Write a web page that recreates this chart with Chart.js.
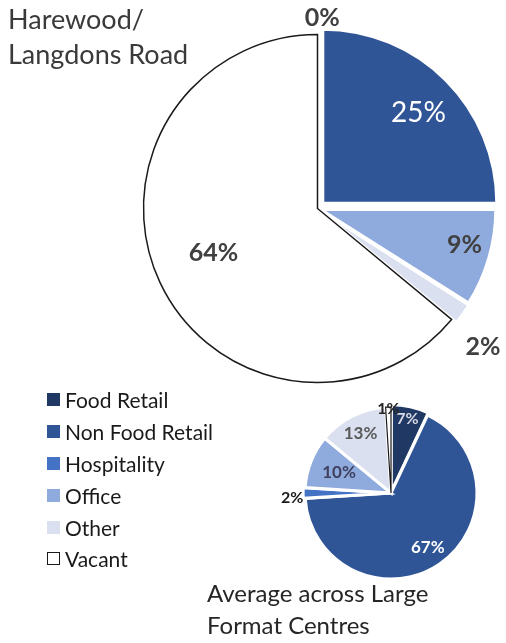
<!DOCTYPE html>
<html>
<head>
<meta charset="utf-8">
<script src="https://cdn.jsdelivr.net/npm/chart.js@4.4.0/dist/chart.umd.min.js"></script>
<style>
  html, body { margin: 0; padding: 0; background: #fff; }
  body { width: 506px; height: 643px; position: relative; overflow: hidden; font-family: Lato, "Open Sans", sans-serif; }
  #bigWrap { position: absolute; left: 131px; top: 0; width: 373px; height: 417px; }
  #smallWrap { position: absolute; left: 276px; top: 393px; width: 230px; height: 200px; }
  .title { position: absolute; left: 8px; top: 1px; font-size: 27px; line-height: 35px; color: #3a3a3a; z-index: 2; }
  .caption { position: absolute; left: 207px; top: 577px; font-size: 24px; line-height: 32px; color: #262626; }
  #legend { position: absolute; left: 47px; top: 384px; margin: 0; padding: 0; list-style: none; font-size: 21px; color: #1a1a1a; }
  #legend li { height: 31.8px; display: flex; align-items: center; white-space: nowrap; }
  #legend span.box { display: inline-block; width: 13px; height: 13px; margin-right: 5px; box-sizing: border-box; }
</style>
</head>
<body>
<div class="title">Harewood/<br>Langdons Road</div>
<div id="bigWrap"><canvas id="bigPie"></canvas></div>
<ul id="legend"></ul>
<div id="smallWrap"><canvas id="smallPie"></canvas></div>
<div class="caption">Average across Large<br>Format Centres</div>
<script>
// categories and values (percent of floorspace)
const categories = ['Food Retail', 'Non Food Retail', 'Hospitality', 'Office', 'Other', 'Vacant'];
const harewoodValues = [0, 25, 0, 9, 2, 64];
const averageValues = [7, 67, 2, 10, 13, 1];

const sliceColours = ['#1f3864', '#2f5597', '#4472c4', '#8faadc', '#dae0f0', '#ffffff'];
const sliceBorders = ['#ffffff', '#ffffff', '#ffffff', '#ffffff', '#ffffff', '#1a1a1a'];

// label placement: r = fraction of the radius, da = degrees nudged off the slice's middle angle
const bigLabelStyles = [
  { r: 1.095, da: 1.4, font: 'bold 25px Lato', color: '#404040' },
  { r: 0.80, da: 1.5, font: '28px Lato', color: '#ffffff' },
  null,
  { r: 0.87, da: -2.3, font: 'bold 25px Lato', color: '#404040' },
  { r: 1.24, da: 3.9, font: 'bold 25px Lato', color: '#404040' },
  { r: 0.65, da: 2.1, font: 'bold 25px Lato', color: '#404040' }
];
const smallLabelStyles = [
  { r: 0.88, da: 0, font: 'bold 16px Lato', color: '#d9d9e6' },
  { r: 0.76, da: 0, font: 'bold 17px Lato', color: '#ffffff' },
  { r: 1.15, da: -3, font: 'bold 16px Lato', color: '#1a1a1a' },
  { r: 0.65, da: 0, font: 'bold 17px Lato', color: '#404060' },
  { r: 0.78, da: 0, font: 'bold 17px Lato', color: '#595959' },
  { r: 0.98, da: 0, font: 'bold 16px Lato', color: '#262626' }
];

function makeLabelPlugin(styles) {
  return {
    id: 'sliceLabels',
    afterDatasetsDraw(chart) {
      const ctx = chart.ctx;
      const values = chart.data.datasets[0].data;
      chart.getDatasetMeta(0).data.forEach((arc, i) => {
        const s = styles[i];
        if (!s) return;
        const p = arc.getProps(['x', 'y', 'startAngle', 'endAngle', 'outerRadius'], true);
        const mid = (p.startAngle + p.endAngle) / 2 + s.da * Math.PI / 180;
        const r = p.outerRadius * s.r;
        ctx.save();
        ctx.font = s.font;
        ctx.fillStyle = s.color;
        ctx.textAlign = 'center';
        ctx.textBaseline = 'middle';
        ctx.fillText(values[i] + '%', p.x + Math.cos(mid) * r, p.y + Math.sin(mid) * r);
        ctx.restore();
      });
    }
  };
}

new Chart(document.getElementById('bigPie'), {
  type: 'pie',
  data: {
    labels: categories,
    datasets: [{
      data: harewoodValues,
      backgroundColor: sliceColours,
      borderColor: sliceBorders,
      borderWidth: [3, 3, 3, 3, 3, 1.5],
      borderJoinStyle: 'miter',
      offset: [0, 30, 0, 12, 12, 0],
      radius: 174
    }]
  },
  options: {
    responsive: true,
    maintainAspectRatio: false,
    animation: false,
    plugins: { legend: { display: false }, tooltip: { enabled: false } }
  },
  plugins: [makeLabelPlugin(bigLabelStyles)]
});

new Chart(document.getElementById('smallPie'), {
  type: 'pie',
  data: {
    labels: categories,
    datasets: [{
      data: averageValues,
      backgroundColor: sliceColours,
      borderColor: sliceBorders,
      borderWidth: [3, 3, 3, 3, 3, 1.2],
      borderJoinStyle: 'miter',
      offset: [6, 0, 4, 0, 0, 0],
      radius: 86
    }]
  },
  options: {
    responsive: true,
    maintainAspectRatio: false,
    animation: false,
    plugins: { legend: { display: false }, tooltip: { enabled: false } }
  },
  plugins: [makeLabelPlugin(smallLabelStyles)]
});

// legend rows built from the same categories and colours
const legend = document.getElementById('legend');
categories.forEach((name, i) => {
  const li = document.createElement('li');
  const box = document.createElement('span');
  box.className = 'box';
  box.style.background = sliceColours[i];
  if (sliceBorders[i] !== '#ffffff') box.style.border = '1.5px solid ' + sliceBorders[i];
  li.appendChild(box);
  li.appendChild(document.createTextNode(name));
  legend.appendChild(li);
});
</script>
</body>
</html>
